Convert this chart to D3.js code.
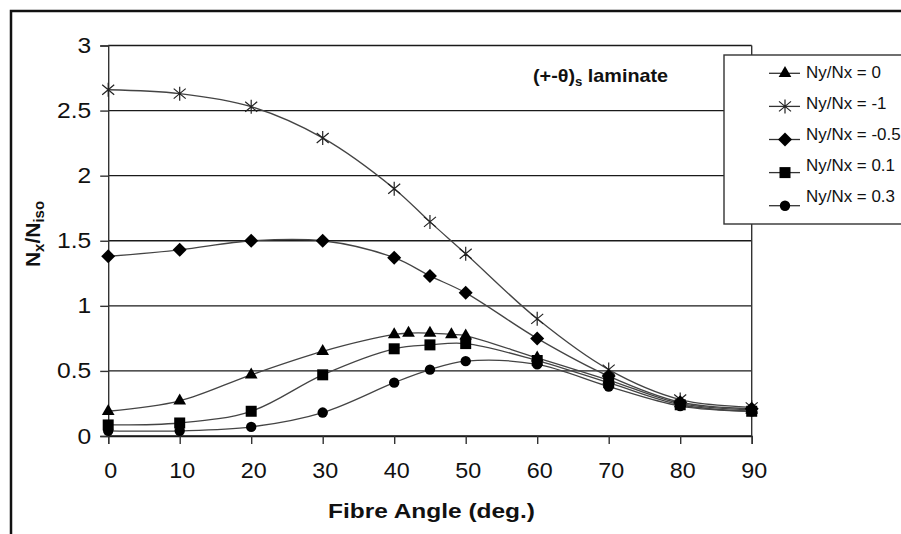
<!DOCTYPE html>
<html>
<head>
<meta charset="utf-8">
<script src="https://cdn.jsdelivr.net/npm/d3@7"></script>
<style>
  html, body { margin: 0; padding: 0; background: #fff; }
  svg { display: block; }
  text { font-family: "Liberation Sans", Arial, sans-serif; fill: #111; }
</style>
</head>
<body>
<svg id="chart" width="901" height="534"></svg>
<script>
// Buckling load ratio vs fibre angle for a (+-θ)s laminate
const seriesNames = ["Ny/Nx = 0", "Ny/Nx = -1", "Ny/Nx = -0.5", "Ny/Nx = 0.1", "Ny/Nx = 0.3"];
const seriesMarkers = ["triangle", "star", "diamond", "square", "circle"];

const anglesMain = [0, 10, 20, 30, 40, 45, 50, 60, 70, 80, 90];
const anglesZero = [0, 10, 20, 30, 40, 42, 45, 48, 50, 60, 70, 80, 90];

const valsZero    = [0.19, 0.27, 0.47, 0.65, 0.78, 0.79, 0.79, 0.78, 0.77, 0.60, 0.43, 0.25, 0.20];
const valsMinus1  = [2.66, 2.63, 2.53, 2.29, 1.90, 1.645, 1.40, 0.90, 0.51, 0.28, 0.22];
const valsMinus05 = [1.38, 1.43, 1.50, 1.50, 1.37, 1.23, 1.10, 0.75, 0.46, 0.26, 0.21];
const valsP01     = [0.085, 0.10, 0.19, 0.47, 0.67, 0.70, 0.71, 0.58, 0.41, 0.24, 0.19];
const valsP03     = [0.04, 0.04, 0.07, 0.18, 0.41, 0.51, 0.575, 0.55, 0.38, 0.23, 0.19];

const xTicks = [0, 10, 20, 30, 40, 50, 60, 70, 80, 90];
const yTicks = [0, 0.5, 1, 1.5, 2, 2.5, 3];
const yTickLabels = ["0", "0.5", "1", "1.5", "2", "2.5", "3"];

const seriesAngles = [anglesZero, anglesMain, anglesMain, anglesMain, anglesMain];
const seriesValues = [valsZero, valsMinus1, valsMinus05, valsP01, valsP03];
const series = seriesNames.map((name, i) => ({
  name,
  marker: seriesMarkers[i],
  points: seriesAngles[i].map((a, j) => ({ a, v: seriesValues[i][j] }))
}));

const svg = d3.select("#chart");

// outer frame
svg.append("rect")
  .attr("x", 11).attr("y", 11).attr("width", 1000).attr("height", 1000)
  .attr("fill", "none").attr("stroke", "#111").attr("stroke-width", 2.5);

const plotL = 108.2, plotR = 751.7, plotT = 45.5, plotB = 436;
const x = d3.scaleLinear().domain([0, 90]).range([plotL, plotR]);
const y = d3.scaleLinear().domain([0, 3]).range([plotB, plotT]);

// horizontal gridlines
svg.append("g")
  .selectAll("line")
  .data(yTicks)
  .join("line")
  .attr("x1", plotL).attr("x2", plotR)
  .attr("y1", d => y(d)).attr("y2", d => y(d))
  .attr("stroke", "#1a1a1a").attr("stroke-width", 1.4);

// right border of the plot area
svg.append("line")
  .attr("x1", plotR).attr("x2", plotR).attr("y1", plotT).attr("y2", plotB)
  .attr("stroke", "#333").attr("stroke-width", 1.4);

// y axis
const yAxis = svg.append("g")
  .attr("transform", `translate(${plotL},0)`)
  .call(d3.axisLeft(y).tickValues(yTicks).tickSize(8).tickPadding(10)
    .tickFormat((d, i) => yTickLabels[i]));
yAxis.select(".domain").attr("stroke", "#333").attr("stroke-width", 1.4);
yAxis.selectAll(".tick line").attr("stroke", "#333").attr("stroke-width", 1.4);
yAxis.selectAll(".tick text")
  .attr("font-size", 22).attr("font-family", "Liberation Sans, Arial, sans-serif")
  .attr("fill", "#111")
  .attr("x", 0)
  .attr("transform", "translate(-17,0) scale(1.12,1)");

// x axis
const xAxis = svg.append("g")
  .attr("transform", `translate(0,${plotB})`)
  .call(d3.axisBottom(x).tickValues(xTicks).tickSize(8).tickPadding(18)
    .tickFormat(d3.format("d")));
xAxis.select(".domain").attr("stroke", "#1a1a1a").attr("stroke-width", 1.4);
xAxis.selectAll(".tick line").attr("stroke", "#333").attr("stroke-width", 1.4);
xAxis.selectAll(".tick text")
  .attr("font-size", 22).attr("font-family", "Liberation Sans, Arial, sans-serif")
  .attr("fill", "#111")
  .attr("transform", "translate(2,0) scale(1.06,1)");

// axis titles
svg.append("text")
  .attr("x", 328).attr("y", 518)
  .attr("font-size", 21).attr("font-weight", "bold")
  .attr("textLength", 207).attr("lengthAdjust", "spacingAndGlyphs")
  .text("Fibre Angle (deg.)");

const yTitle = svg.append("text")
  .attr("transform", "translate(40,234) rotate(-90)")
  .attr("text-anchor", "middle")
  .attr("font-size", 21).attr("font-weight", "bold");
yTitle.append("tspan").text("N");
yTitle.append("tspan").attr("font-size", 15).attr("dy", 4).text("x");
yTitle.append("tspan").attr("dy", -4).text("/N");
yTitle.append("tspan").attr("font-size", 15).attr("dy", 4).text("iso");

// annotation
const note = svg.append("text")
  .attr("transform", "translate(533,82) scale(1.1,1)")
  .attr("font-size", 18).attr("font-weight", "bold");
note.append("tspan").text("(+-θ)");
note.append("tspan").attr("font-size", 12).attr("dy", 4).text("s");
note.append("tspan").attr("dy", -4).text(" laminate");

// marker shapes
function markerPath(type) {
  switch (type) {
    case "triangle": return d3.symbol(d3.symbolTriangle, 70)();
    case "diamond": return "M0,-7L7,0L0,7L-7,0Z";
    case "square": return "M-5.5,-5.5H5.5V5.5H-5.5Z";
    case "circle": return d3.symbol(d3.symbolCircle, 85)();
    case "star": return "M0,-7V7M-6,-5L6,5M-6,5L6,-5";
  }
}
function drawMarker(g, type, cx, cy) {
  const p = g.append("path")
    .attr("d", markerPath(type))
    .attr("transform", `translate(${cx},${cy})`);
  if (type === "star") {
    p.attr("fill", "none").attr("stroke", "#222").attr("stroke-width", 1.2);
  } else {
    p.attr("fill", "#000").attr("stroke", "none");
  }
}

// series lines and markers
const line = d3.line()
  .x(d => x(d.a)).y(d => y(d.v))
  .curve(d3.curveCatmullRom.alpha(0.5));

const plot = svg.append("g");
series.forEach(s => {
  plot.append("path")
    .attr("d", line(s.points))
    .attr("fill", "none").attr("stroke", "#444").attr("stroke-width", 1.3);
});
series.forEach(s => {
  const g = plot.append("g");
  s.points.forEach(p => drawMarker(g, s.marker, x(p.a), y(p.v)));
});

// legend
const legend = svg.append("g");
legend.append("rect")
  .attr("x", 724).attr("y", 55).attr("width", 300).attr("height", 169)
  .attr("fill", "#fff").attr("stroke", "#333").attr("stroke-width", 1.4);
series.forEach((s, i) => {
  const ly = 73.3 + i * 33.1;
  legend.append("line")
    .attr("x1", 769).attr("x2", 800).attr("y1", ly).attr("y2", ly)
    .attr("stroke", "#333").attr("stroke-width", 1.3);
  drawMarker(legend, s.marker, 785, ly);
  legend.append("text")
    .attr("transform", `translate(806,${77.5 + i * 31.2}) scale(1.06,1)`)
    .attr("font-size", 16)
    .text(s.name);
});
</script>
</body>
</html>
